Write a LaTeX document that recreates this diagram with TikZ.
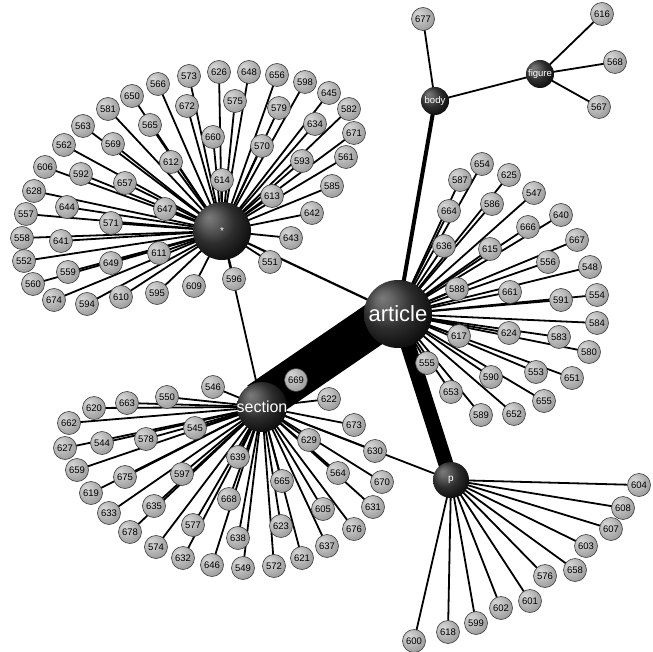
\documentclass[tikz,border=0pt]{standalone}
\usepackage{fontspec}
\setmainfont{Liberation Sans}
\pgfdeclarelayer{back}
\pgfdeclarelayer{bg}
\pgfsetlayers{back,bg,main}
\pgfdeclareradialshading{leafball}{\pgfpoint{-12bp}{12bp}}{color(0bp)=(black!16); color(10bp)=(black!22); color(30bp)=(black!38); color(45bp)=(black!56); color(55bp)=(black!74)}
\pgfdeclareradialshading{hubball}{\pgfpoint{-12bp}{12bp}}{color(0bp)=(black!52); color(6bp)=(black!60); color(18bp)=(black!82); color(30bp)=(black!94); color(50bp)=(black)}
\begin{document}
\begin{tikzpicture}[x=1pt,y=-1pt,
  leaf/.style={circle, minimum size=23pt, inner sep=0pt, shading=leafball, draw=black!75, line width=0.6pt, font=\fontsize{9.5}{10}\selectfont},
  hub/.style={circle, inner sep=0pt, shading=hubball, text=white},
  edge/.style={line width=1.8pt, black},
]
\begin{pgfonlayer}{back}
\fill[white] (0,0) rectangle (653,652);
\end{pgfonlayer}
\useasboundingbox (0,0) rectangle (653,652);

% hubs
\node[hub, minimum size=58pt, font=\fontsize{10}{10}\selectfont] (star) at (222,231) {\makebox[0pt]{*}};
\node[hub, minimum size=68pt, font=\fontsize{22}{22}\selectfont] (article) at (398,314) {\makebox[0pt]{article}};
\node[hub, minimum size=50pt, font=\fontsize{16}{16}\selectfont] (section) at (262,407) {\makebox[0pt]{section}};
\node[hub, minimum size=36pt, font=\fontsize{10}{10}\selectfont] (p) at (451,480) {\makebox[0pt]{p}};
\node[hub, minimum size=28pt, font=\fontsize{9.5}{10}\selectfont] (body) at (435,101) {\makebox[0pt]{body}};
\node[hub, minimum size=28pt, font=\fontsize{9.5}{10}\selectfont] (figure) at (540,74) {\makebox[0pt]{figure}};

% leaves of *
\foreach \n/\x/\y in {566/158/84, 573/189/76, 626/219/72, 648/249/72, 656/277/75, 598/305/82, 650/132/96, 672/187/106, 575/235/101, 645/329/93, 579/279/108, 582/349/109, 581/108/109, 565/150/125, 563/83/126, 660/213/137, 634/315/124, 671/354/133, 570/262/146, 593/302/161, 561/346/157, 562/64/145, 569/113/144, 612/171/162, 614/222/180, 613/272/196, 585/332/186, 606/45/167, 592/81/174, 657/125/183, 628/34/191, 647/165/209, 642/312/213, 644/67/207, 557/26/214, 571/111/223, 643/291/238, 558/22/238, 641/61/241, 551/270/262, 611/159/253, 552/24/261, 649/111/263, 559/68/272, 560/33/284, 596/234/279, 609/194/286, 595/157/293, 610/121/297, 674/54/300, 594/87/304}
  {\node[leaf] (n\n) at (\x,\y) {\n};
   \begin{pgfonlayer}{bg}\draw[edge] (star.center) -- (n\n.center);\end{pgfonlayer}}

% leaves of article
\foreach \n/\x/\y in {654/482/164, 587/460/180, 625/509/175, 547/534/193, 664/449/211, 586/492/204, 640/561/215, 666/528/227, 636/444/246, 615/490/249, 667/577/240, 556/548/262, 548/590/267, 588/457/289, 661/510/292, 591/561/300, 554/597/295, 584/597/323, 617/459/336, 624/509/333, 583/559/337, 580/589/352, 555/427/363, 553/536/372, 651/572/378, 590/491/377, 653/451/392, 655/544/401, 589/481/415, 652/514/414}
  {\node[leaf] (n\n) at (\x,\y) {\n};
   \begin{pgfonlayer}{bg}\draw[edge] (article.center) -- (n\n.center);\end{pgfonlayer}}

% leaves of section
\foreach \n/\x/\y in {546/213/387, 550/167/397, 663/127/403, 620/94/408, 662/69/423, 545/195/428, 578/146/439, 544/102/443, 627/65/448, 659/77/470, 597/182/474, 675/125/477, 619/91/493, 635/154/506, 633/109/513, 577/193/525, 678/130/532, 574/156/547, 632/183/558, 646/212/565, 669/296/380, 622/329/399, 673/354/425, 629/309/440, 630/375/451, 639/238/457, 564/338/473, 670/382/482, 665/282/481, 668/229/499, 631/373/507, 605/323/509, 623/281/526, 676/354/529, 638/238/538, 637/327/546, 621/302/558, 549/243/568, 572/274/566}
  {\node[leaf] (n\n) at (\x,\y) {\n};
   \begin{pgfonlayer}{bg}\draw[edge] (section.center) -- (n\n.center);\end{pgfonlayer}}

% leaves of p
\foreach \n/\x/\y in {604/639/485, 608/623/508, 607/611/529, 603/586/546, 658/575/570, 576/545/576, 601/530/601, 602/501/608, 599/476/623, 618/448/632, 600/414/641}
  {\node[leaf] (n\n) at (\x,\y) {\n};
   \begin{pgfonlayer}{bg}\draw[edge] (p.center) -- (n\n.center);\end{pgfonlayer}}

% leaves of body and figure
\node[leaf] (n677) at (423,19) {677};
\foreach \n/\x/\y in {616/602/14, 568/615/62, 567/599/107}
  {\node[leaf] (n\n) at (\x,\y) {\n};
   \begin{pgfonlayer}{bg}\draw[edge] (figure.center) -- (n\n.center);\end{pgfonlayer}}

\begin{pgfonlayer}{bg}
  \draw[edge] (body.center) -- (n677.center);
  \draw[line width=42pt, transform canvas={shift={(-2.8,-4.1)}}] (article.center) -- (section.center);
  \draw[line width=15pt] (article.center) -- (p.center);
  \draw[line width=4pt] (article.center) -- (body.center);
  \draw[line width=2.2pt] (article.center) -- (star.center);
  \draw[edge] (star.center) -- (section.center);
  \draw[edge] (section.center) -- (p.center);
  \draw[edge] (body.center) -- (figure.center);
\end{pgfonlayer}
\end{tikzpicture}
\end{document}
